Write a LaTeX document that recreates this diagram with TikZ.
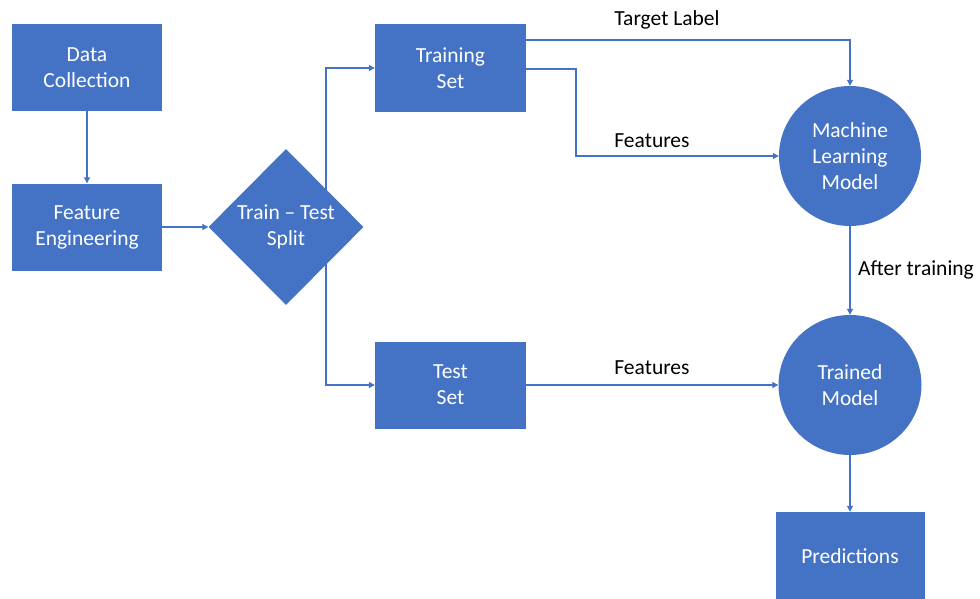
\documentclass[tikz,border=0pt]{standalone}
\usepackage{fontspec}
\setmainfont{Carlito}
\usetikzlibrary{shapes.geometric,arrows.meta,backgrounds}
\definecolor{officeblue}{HTML}{4472C4}
\tikzset{
  txt/.style={font=\fontsize{21.5}{26}\selectfont, align=center},
  box/.style={txt, rectangle, fill=officeblue, text=white, inner sep=0pt,
    minimum width=150pt, minimum height=87pt},
  dia/.style={txt, diamond, fill=officeblue, text=white, inner sep=0pt,
    minimum width=155pt, minimum height=156pt},
  ell/.style={txt, ellipse, fill=officeblue, text=white, inner sep=0pt,
    minimum width=142pt, minimum height=140pt},
  lbl/.style={txt, text=black, inner sep=0pt},
  conn/.style={draw=officeblue, line width=1.1pt,
    -{Triangle[length=6pt,width=6pt]}}
}
\begin{document}
\begin{tikzpicture}[x=1pt,y=-1pt]
\useasboundingbox (0,0) rectangle (980,599);
\node[box] (dc) at (87,67.5) {Data\\Collection};
\node[box] (fe) at (87,227) {Feature\\Engineering};
\node[dia] (split) at (286,227) {Train -- Test\\Split};
\node[box, minimum width=151pt, minimum height=88pt] (train) at (450.5,68) {Training\\Set};
\node[box, minimum width=151pt] (test) at (450.5,385) {Test\\Set};
\node[ell] (ml) at (850,156) {Machine\\Learning\\Model};
\node[ell, minimum width=143pt] (tm) at (850,385) {Trained\\Model};
\node[box, minimum width=149pt, minimum height=88pt] (pred) at (850,556) {Predictions};

\coordinate (sv) at (326,227);
\coordinate (tl) at (526,40);
\coordinate (fl) at (526,69);
\coordinate (fk) at (576,69);

\node[lbl] (lt) at (667,20) {Target Label};
\node[lbl] (lf1) at (652,141) {Features};
\node[lbl] (lf2) at (652,368) {Features};
\node[lbl, anchor=west] (la) at (858,270) {After training};

\begin{scope}[on background layer]
\draw[conn] (dc.south) -- (fe.north);
\draw[conn] (fe.east) -- (split.west);
\draw[conn] (sv) |- (train.west);
\draw[conn] (sv) |- (test.west);
\draw[conn] (tl) -| (ml.north);
\draw[conn] (fl) -- (fk) |- (ml.west);
\draw[conn] (ml.south) -- (tm.north);
\draw[conn] (test.east) -- (tm.west);
\draw[conn] (tm.south) -- (pred.north);
\end{scope}
\end{tikzpicture}
\end{document}
